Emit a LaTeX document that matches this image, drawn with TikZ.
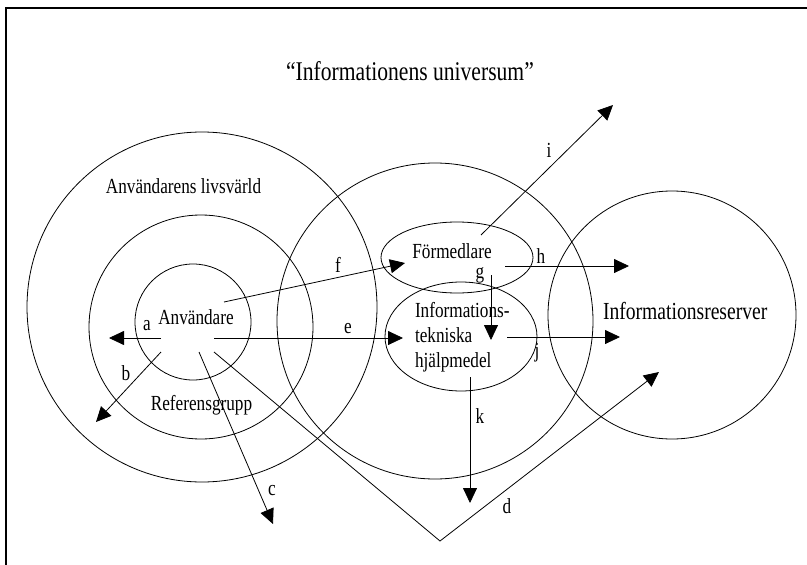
\documentclass[tikz,border=0pt]{standalone}
\usepackage{fontspec}
\setmainfont[FakeStretch=0.8]{Liberation Serif}
\newcommand*{\labelfont}{\fontsize{21.5}{25}\selectfont}
\newcommand*{\bigfont}{\fontsize{27}{30}\selectfont}
\usepackage{tikz}
\usetikzlibrary{arrows.meta}
\usetikzlibrary{positioning}
\usetikzlibrary{shapes.geometric}
\tikzstyle{base}=[x=1pt, y=-1pt, line width=0.8pt, inner sep=0pt, outer sep=0pt]
\tikzstyle{ring}=[draw, circle, line width=0.8pt]
\tikzstyle{oval}=[draw, ellipse, line width=0.8pt]
\tikzstyle{flow}=[-{Triangle[length=15pt,width=14pt]}, line width=0.8pt]
\tikzstyle{word}=[font=\labelfont, anchor=base]

\begin{document}
\begin{tikzpicture}[base]
    \useasboundingbox (0,0) rectangle (807,565);
    \draw [line width=1.3pt] (6,565) -- (6,8) -- (807,8);
    \node [ring, minimum size=350pt] (livsvarld) at (202,307) {};
    \node [ring, minimum size=224pt] (referens) at (201,327) {};
    \node [ring, minimum size=116pt] (anvandare) at (193,322) {};
    \node [ring, minimum size=316pt] (teknik) at (435,321) {};
    \node [ring, minimum size=248pt] (reserver) at (672,315) {};
    \node [oval, minimum width=152pt, minimum height=71pt] (formedlare) at (457,257.5) {};
    \node [oval, minimum width=152pt, minimum height=109pt] (hjalpmedel) at (461,336.5) {};
    \node [font=\bigfont, anchor=base] (titel) at (410,80) {“Informationens universum”};
    \node [word] (livsvarldtext) at (183.5,193) {Användarens livsvärld};
    \node [word] (anvandaretext) at (196,324) {Användare};
    \node [word] (referenstext) at (201.5,410) {Referensgrupp};
    \node [word] (formedlaretext) at (452,258) {Förmedlare};
    \node [word, anchor=base west, align=left] (hjalpmedeltext) at (415,367)
        {Informations-\\tekniska\\hjälpmedel};
    \node [font=\fontsize{24.5}{28}\selectfont, anchor=base west] (reservertext) at (603,319)
        {Informationsreserver};
    \coordinate (a0) at (161,338);  \coordinate (a1) at (109,338);
    \coordinate (b0) at (161,352);  \coordinate (b1) at (96,422);
    \coordinate (c0) at (199,352);  \coordinate (c1) at (273,524);
    \coordinate (d0) at (214,352);  \coordinate (dv) at (440,541);  \coordinate (d1) at (659,372);
    \coordinate (e0) at (214,338);  \coordinate (e1) at (403,338);
    \coordinate (f0) at (224,302);  \coordinate (f1) at (405,263);
    \coordinate (g0) at (491,275);  \coordinate (g1) at (491,340);
    \coordinate (h0) at (505,266);  \coordinate (h1) at (629,266);
    \coordinate (i0) at (481,235);  \coordinate (i1) at (613,105);
    \coordinate (j0) at (507,337);  \coordinate (j1) at (620,337);
    \coordinate (k0) at (470,377);  \coordinate (k1) at (470,503);
    \draw [flow] (a0) -- (a1);
    \draw [flow] (b0) -- (b1);
    \draw [flow] (c0) -- (c1);
    \draw [flow] (d0) -- (dv) -- (d1);
    \draw [flow] (e0) -- (e1);
    \draw [flow] (f0) -- (f1);
    \draw [flow] (g0) -- (g1);
    \draw [flow] (h0) -- (h1);
    \draw [flow] (i0) -- (i1);
    \draw [flow] (j0) -- (j1);
    \draw [flow] (k0) -- (k1);
    \node [word] (la) at (147,330) {a};
    \node [word] (lb) at (126,380) {b};
    \node [word] (lc) at (272,495) {c};
    \node [word] (ld) at (507,513) {d};
    \node [word] (le) at (348,333) {e};
    \node [word] (lf) at (338,272) {f};
    \node [word] (lg) at (480,278) {g};
    \node [word] (lh) at (541,263) {h};
    \node [word] (li) at (549,157) {i};
    \node [word] (lj) at (537,357) {j};
    \node [word] (lk) at (480,423) {k};
\end{tikzpicture}
\end{document}
